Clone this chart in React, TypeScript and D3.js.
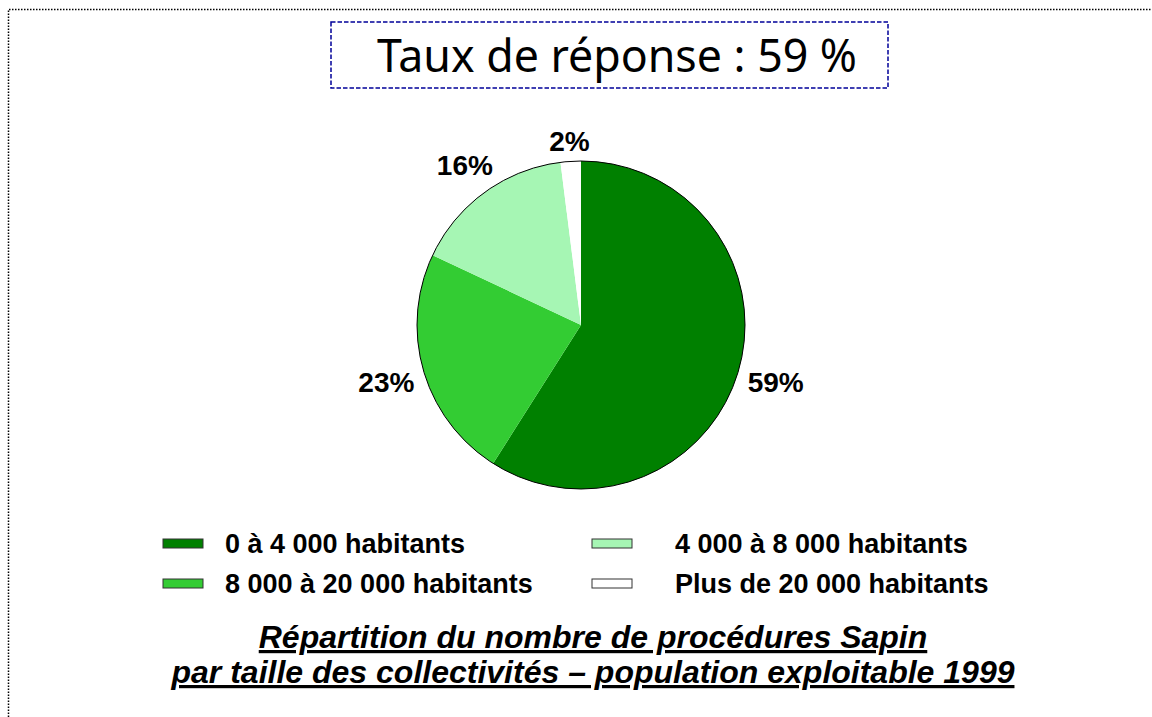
import React from "react";
import * as d3 from "d3";

// Chart data
const categories = [
  "0 à 4 000 habitants",
  "8 000 à 20 000 habitants",
  "4 000 à 8 000 habitants",
  "Plus de 20 000 habitants",
];
const shares = [59, 23, 16, 2];
const colors = ["#008000", "#33CC33", "#A6F6B4", "#FFFFFF"];

const titleText = "Taux de réponse : 59 %";
const captionLines = [
  "Répartition du nombre de procédures Sapin",
  "par taille des collectivités – population exploitable 1999",
];

const W = 1152;
const H = 717;
const cx = 581;
const cy = 325;
const radius = 164;
const bold = "'Liberation Sans', Arial, sans-serif";

export default function App() {
  const pie = d3
    .pie<number>()
    .sort(null)
    .value((d) => d)
    .startAngle(0)
    .endAngle(2 * Math.PI);
  const arcs = pie(shares);
  const arc = d3.arc<d3.PieArcDatum<number>>().innerRadius(0).outerRadius(radius);

  // label placement: box centre pushed out from the rim
  const labelSize = 28;
  const labels = arcs.map((a) => {
    const text = `${a.data}%`;
    const mid = (a.startAngle + a.endAngle) / 2;
    const s = Math.sin(mid);
    const c = Math.cos(mid);
    const w = (String(a.data).length * 0.556 + 0.889) * labelSize;
    const h = 0.716 * labelSize;
    const dist = radius + 9 + Math.abs(s) * (w / 2) + Math.abs(c) * (h / 2);
    return { text, x: cx + dist * s, y: cy - dist * c + h / 2 };
  });

  // legend: two columns, filled column first
  const swatchX = d3.scaleOrdinal<number, number>().domain([0, 1]).range([163, 592]);
  const textX = d3.scaleOrdinal<number, number>().domain([0, 1]).range([225, 675]);
  const rowY = d3.scaleOrdinal<number, number>().domain([0, 1]).range([553, 593]);

  return (
    <svg
      width={W}
      height={H}
      viewBox={`0 0 ${W} ${H}`}
      style={{ position: "fixed", left: 0, top: 0, background: "#fff" }}
    >
      <rect width={W} height={H} fill="#fff" />
      {/* outer dotted frame, cut at the right and bottom */}
      <path
        d={`M8.5,${H} V9.5 H${W}`}
        fill="none"
        stroke="#000"
        strokeWidth={1.5}
        strokeDasharray="1.5 1.5"
      />

      {/* title box */}
      <rect
        x={331}
        y={22}
        width={557}
        height={66}
        fill="#fff"
        stroke="#000099"
        strokeWidth={1.5}
        strokeDasharray="4.5 2"
      />
      <text
        x={617}
        y={72}
        textAnchor="middle"
        fontFamily="'Comic Sans MS', 'Noto Sans', sans-serif"
        fontSize={45}
        textLength={480}
        lengthAdjust="spacingAndGlyphs"
        fill="#000"
      >
        {titleText}
      </text>

      {/* pie */}
      <g transform={`translate(${cx},${cy})`}>
        {arcs.map((a, i) => (
          <path key={i} d={arc(a) || ""} fill={colors[i]} />
        ))}
        <circle r={radius} fill="none" stroke="#000" strokeWidth={1} />
      </g>
      {labels.map((l, i) => (
        <text
          key={i}
          x={l.x}
          y={l.y}
          textAnchor="middle"
          fontFamily={bold}
          fontWeight="bold"
          fontSize={labelSize}
          fill="#000"
        >
          {l.text}
        </text>
      ))}

      {/* legend */}
      {categories.map((cat, i) => {
        const col = Math.floor(i / 2);
        const row = i % 2;
        const y = rowY(row);
        return (
          <g key={cat}>
            <rect
              x={swatchX(col)}
              y={y - 14}
              width={40}
              height={9}
              fill={colors[i]}
              stroke="#333"
              strokeWidth={1}
            />
            <text
              x={textX(col)}
              y={y}
              fontFamily={bold}
              fontWeight="bold"
              fontSize={27}
              fill="#000"
            >
              {cat}
            </text>
          </g>
        );
      })}

      {/* caption */}
      {captionLines.map((line, i) => (
        <text
          key={i}
          x={593}
          y={648 + i * 35}
          textAnchor="middle"
          fontFamily={bold}
          fontWeight="bold"
          fontStyle="italic"
          fontSize={32}
          style={{ textDecoration: "underline" }}
          fill="#000"
        >
          {line}
        </text>
      ))}
    </svg>
  );
}
